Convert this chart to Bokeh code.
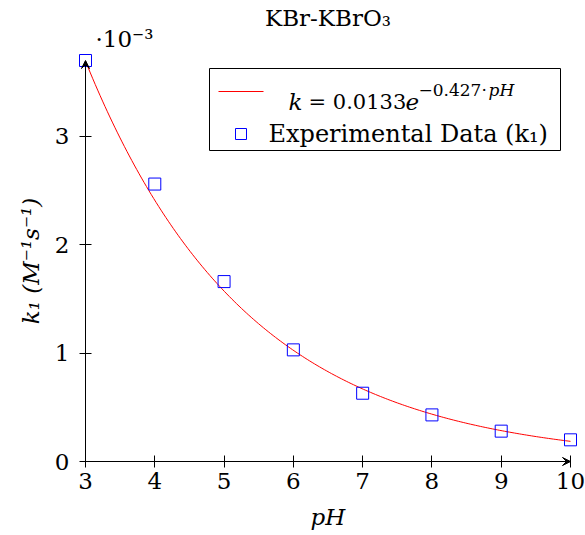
import numpy as np
from bokeh.plotting import figure
from bokeh.models import (Range1d, FixedTicker, CustomJSTickFormatter, Arrow,
                          VeeHead, Label, BoxAnnotation, LinearAxis, Title)
from bokeh.embed import file_html
from bokeh.resources import INLINE

# ---------------- data ----------------
ph = [3, 4, 5, 6, 7, 8, 9, 10]
k1 = [3.70e-3, 2.56e-3, 1.66e-3, 1.03e-3, 0.63e-3, 0.43e-3, 0.28e-3, 0.20e-3]
fit_a = 0.0133          # k = a * exp(-b * pH)
fit_b = 0.427
x_ticks = [3, 4, 5, 6, 7, 8, 9, 10]
y_ticks = [0.0, 1e-3, 2e-3, 3e-3]
title_text = "KBr-KBrO\u2083"
y_scale_text = "\u00b710\u207b\u00b3"
x_label = "pH"
y_label = "k\u2081 (M\u207b\u00b9s\u207b\u00b9)"
legend_data = "Experimental Data (k\u2081)"

FONT = "DejaVu Serif"
FS = "23px"

# ---------------- geometry (pixels) ----------------
W, H = 585, 535
X0PX, X1PX = 85, 570      # pixel of x=3 and x=10
Y0PX, Y1PX = 461, 60      # pixel of y=0 and y=ymax
PAD = 7
xmin, xmax = min(ph), max(ph)
ymax = max(k1)
sx = (X1PX - X0PX) / (xmax - xmin)
sy = (Y0PX - Y1PX) / ymax


def dx(px):
    return xmin + (px - X0PX) / sx


def dy(py):
    return (Y0PX - py) / sy


p = figure(width=W, height=H, output_backend="svg", toolbar_location=None,
           x_range=Range1d(xmin - PAD / sx, xmax + PAD / sx),
           y_range=Range1d(-PAD / sy, ymax + PAD / sy),
           min_border_left=X0PX - PAD, min_border_right=W - (X1PX + PAD),
           min_border_top=Y1PX - PAD, min_border_bottom=H - (Y0PX + PAD),
           title=None)
p.outline_line_color = None
p.grid.visible = False
p.background_fill_color = "white"

# titles (inner row first, outer rows after)
p.add_layout(Title(text=y_scale_text, align="left", offset=17, standoff=4,
                   text_font=FONT, text_font_size=FS, text_font_style="normal",
                   text_color="black"), "above")
p.add_layout(Title(text=title_text, align="center", standoff=-18,
                   text_font=FONT, text_font_size=FS, text_font_style="normal",
                   text_color="black"), "above")
p.add_layout(Title(text=" ", align="center", standoff=0,
                   text_font=FONT, text_font_size="4px"), "above")

# label axes (at frame edges): tick labels and axis titles only
p.xaxis.ticker = FixedTicker(ticks=x_ticks)
p.yaxis.ticker = FixedTicker(ticks=y_ticks)
p.yaxis.formatter = CustomJSTickFormatter(code="return (tick*1000).toFixed(0);")
for ax in (p.xaxis, p.yaxis):
    ax.axis_line_color = None
    ax.major_tick_line_color = None
    ax.major_tick_in = 0
    ax.major_tick_out = 0
    ax.minor_tick_line_color = None
    ax.major_label_text_font = FONT
    ax.major_label_text_font_size = FS
    ax.major_label_text_color = "black"
    ax.major_label_text_line_height = 1.0
    ax.axis_label_text_font = FONT
    ax.axis_label_text_font_size = FS
    ax.axis_label_text_font_style = "italic"
    ax.axis_label_text_color = "black"
    ax.axis_label_text_line_height = 1.0
p.xaxis.major_label_standoff = 4
p.yaxis.major_label_standoff = 9
p.xaxis.axis_label = x_label
p.yaxis.axis_label = y_label
p.xaxis.axis_label_standoff = 12
p.yaxis.axis_label_standoff = 8

# tick axes placed at x=3 / y=0
for side, loc, ticks in (("below", 0, x_ticks), ("left", xmin, y_ticks)):
    tax = LinearAxis(fixed_location=loc, ticker=FixedTicker(ticks=ticks),
                     formatter=CustomJSTickFormatter(code="return '';"),
                     axis_line_color=None, major_tick_line_color="black",
                     major_tick_in=6, major_tick_out=6, minor_tick_line_color=None,
                     major_label_standoff=0, major_label_text_font_size="1px")
    p.add_layout(tax, side)

# axis lines with arrow heads
p.add_layout(Arrow(x_start=xmin, y_start=0, x_end=xmax, y_end=0,
                   line_color="black", line_width=1,
                   end=VeeHead(size=8, line_color="black", fill_color="black", line_width=1)))
p.add_layout(Arrow(x_start=xmin, y_start=0, x_end=xmin, y_end=ymax,
                   line_color="black", line_width=1,
                   end=VeeHead(size=8, line_color="black", fill_color="black", line_width=1)))

# fit curve
xs = np.linspace(xmin, xmax, 200)
ys = fit_a * np.exp(-fit_b * xs)
p.line(xs, ys, line_color="#ff0000", line_width=1)

# data
p.scatter(ph, k1, marker="square", size=12, line_color="#0000ff",
          fill_color=None, line_width=1)

# legend (manual)
p.add_layout(BoxAnnotation(left=dx(209), right=dx(560), top=dy(68), bottom=dy(150),
                           fill_color="white", fill_alpha=1, line_color="black",
                           line_width=1, line_alpha=1))
p.add_layout(Arrow(x_start=dx(218), y_start=dy(91), x_end=dx(263), y_end=dy(91),
                   line_color="#ff0000", line_width=1, end=None))


def lab(x, y, text, size=FS, style="normal"):
    p.add_layout(Label(x=dx(x), y=dy(y), text=text, text_font=FONT,
                       text_font_size=size, text_font_style=style,
                       text_color="black", text_baseline="alphabetic"))


lab(288, 101, "k", style="italic")
lab(308, 101, "= 0.0133", size="21px")
lab(405, 101, "e", style="italic")
lab(418, 89, "\u22120.427\u00b7", size="17px")
lab(488, 89, "pH", size="17px", style="italic")
p.add_layout(BoxAnnotation(left=dx(235), right=dx(246), top=dy(128), bottom=dy(139),
                           fill_alpha=0, line_color="#0000ff", line_width=1, line_alpha=1))
lab(268, 133, legend_data, size="24px")

open("out.html", "w").write(file_html(p, INLINE))
